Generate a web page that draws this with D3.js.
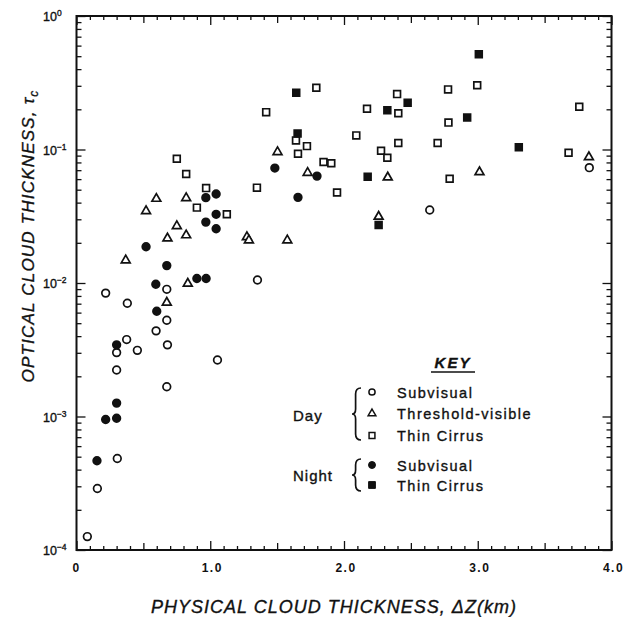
<!DOCTYPE html>
<html>
<head>
<meta charset="utf-8">
<script src="https://cdn.jsdelivr.net/npm/d3@7"></script>
<style>
  html, body { margin: 0; padding: 0; background: #fff; }
  svg { display: block; }
  text { font-family: "Liberation Sans", Arial, sans-serif; fill: #111; stroke: #111; stroke-width: 0.35px; }
</style>
</head>
<body>
<svg id="chart" width="637" height="617"></svg>
<script>
// Physical cloud thickness ΔZ (km) vs optical cloud thickness τc, by cloud class
const daySubvisual = [
  [0.675, 0.00897], [0.218, 0.0084], [0.38, 0.00705], [0.675, 0.00526],
  [0.595, 0.00438], [0.375, 0.00377], [0.68, 0.00344], [0.30, 0.00301],
  [0.455, 0.00313], [1.054, 0.00265], [0.30, 0.00223], [0.675, 0.00167],
  [0.305, 0.000485], [0.156, 0.000289], [0.081, 0.000126], [1.353, 0.01054],
  [2.641, 0.0352], [3.834, 0.0731]
];
const dayThreshold = [
  [0.597, 0.0428], [0.82, 0.0433], [0.52, 0.0346], [0.75, 0.0267],
  [0.68, 0.0216], [0.82, 0.0228], [1.274, 0.0221], [1.289, 0.0209],
  [0.368, 0.0148], [0.832, 0.0099], [0.675, 0.00713], [1.503, 0.0957],
  [1.728, 0.067], [2.327, 0.0618], [2.259, 0.0314], [1.576, 0.0209],
  [3.831, 0.0877], [3.013, 0.0677]
];
const dayCirrus = [
  [0.75, 0.0853], [0.82, 0.0655], [0.969, 0.0514], [1.349, 0.0518],
  [0.9, 0.0367], [1.124, 0.0327], [1.793, 0.290], [1.418, 0.1905],
  [2.397, 0.26], [2.172, 0.202], [2.406, 0.187], [1.641, 0.117],
  [2.092, 0.1275], [1.723, 0.106], [1.656, 0.093], [2.406, 0.112],
  [2.70, 0.112], [2.277, 0.098], [2.324, 0.0868], [1.847, 0.0805],
  [1.905, 0.079], [1.948, 0.0477], [2.996, 0.303], [2.778, 0.282],
  [2.781, 0.159], [3.759, 0.209], [3.679, 0.0946], [2.79, 0.0604]
];
const nightSubvisual = [
  [0.967, 0.0436], [1.044, 0.0464], [1.044, 0.0327], [0.967, 0.0286],
  [1.044, 0.0255], [0.52, 0.0187], [0.675, 0.0135], [0.9, 0.0108],
  [0.969, 0.0108], [0.593, 0.00978], [0.6, 0.00614], [0.3, 0.00344],
  [0.3, 0.00126], [0.218, 0.00095], [0.3, 0.00097], [0.153, 0.000466],
  [1.483, 0.0726], [1.798, 0.0632], [1.656, 0.0438]
];
const nightCirrus = [
  [1.643, 0.266], [2.476, 0.224], [2.324, 0.197], [1.653, 0.132],
  [2.177, 0.0626], [2.259, 0.0272], [3.008, 0.518], [2.921, 0.174],
  [3.307, 0.104]
];

const xTickLabels = ["0", "1.0", "2.0", "3.0", "4.0"];
const xMajor = [0, 1, 2, 3, 4];
const yExponents = [0, -1, -2, -3, -4];
const legendDay = ["Subvisual", "Threshold-visible", "Thin Cirrus"];
const legendNight = ["Subvisual", "Thin Cirrus"];

const svg = d3.select("#chart");
const L = 76.5, R = 611.5, T = 16, B = 550;

const x = d3.scaleLinear().domain([0, 4]).range([L, R]);
const y = d3.scaleLog().domain([1e-4, 1]).range([B, T]);

// tick values
const xMinor = d3.range(0, 40.5, 1).map(d => d / 10).filter(d => Math.abs(d * 2 - Math.round(d * 2)) > 1e-6);
const xHalf = [0.5, 1.5, 2.5, 3.5];
const yMajor = yExponents.map(e => Math.pow(10, e));
const yMinor = [];
for (let e = -4; e < 0; e++) for (let m = 2; m <= 9; m++) yMinor.push(m * Math.pow(10, e));

function styleAxis(g) {
  g.select(".domain").remove();
  g.selectAll(".tick line").attr("stroke", "#111").attr("stroke-width", 1.3);
  g.selectAll(".tick text").remove();
}

// inward ticks on all four sides
const sides = [
  { axis: d3.axisBottom, scale: x, at: `translate(0,${B})` },
  { axis: d3.axisTop, scale: x, at: `translate(0,${T})` }
];
sides.forEach(s => {
  svg.append("g").attr("transform", s.at).call(s.axis(s.scale).tickValues(xMinor).tickSize(-4)).call(styleAxis);
  svg.append("g").attr("transform", s.at).call(s.axis(s.scale).tickValues(xHalf).tickSize(-7)).call(styleAxis);
  svg.append("g").attr("transform", s.at).call(s.axis(s.scale).tickValues(xMajor).tickSize(-9)).call(styleAxis);
});
const vsides = [
  { axis: d3.axisLeft, at: `translate(${L},0)` },
  { axis: d3.axisRight, at: `translate(${R},0)` }
];
vsides.forEach(s => {
  svg.append("g").attr("transform", s.at).call(s.axis(y).tickValues(yMinor).tickSize(-5)).call(styleAxis);
  svg.append("g").attr("transform", s.at).call(s.axis(y).tickValues(yMajor).tickSize(-9)).call(styleAxis);
});

// frame
svg.append("rect")
  .attr("x", L).attr("y", T).attr("width", R - L).attr("height", B - T)
  .attr("fill", "none").attr("stroke", "#111").attr("stroke-width", 2);

// x tick labels
svg.append("g").selectAll("text").data(xMajor).join("text")
  .attr("x", d => x(d) + (d === 0 ? 0 : 2))
  .attr("y", B + 22)
  .attr("text-anchor", "middle")
  .attr("font-size", 12)
  .attr("font-weight", "bold")
  .attr("letter-spacing", 1.5)
  .style("stroke-width", "0px")
  .text((d, i) => xTickLabels[i]);

// y tick labels as powers of ten
const yl = svg.append("g").selectAll("text").data(yExponents).join("text")
  .attr("x", 43)
  .attr("y", d => y(Math.pow(10, d)) + 5)
  .attr("font-size", 12.5);
yl.append("tspan").text("10");
yl.append("tspan").attr("dy", -5).attr("font-size", 8.5).text(d => d === 0 ? "0" : "\u2212" + (-d));

// axis titles
svg.append("text")
  .attr("x", (L + R) / 2 - 10).attr("y", 613)
  .attr("text-anchor", "middle")
  .attr("font-size", 18).attr("font-style", "italic").attr("letter-spacing", 1)
  .text("PHYSICAL CLOUD THICKNESS, \u0394Z(km)");

const yt = svg.append("text")
  .attr("transform", "translate(34,236) rotate(-90)")
  .attr("text-anchor", "middle")
  .attr("font-size", 17).attr("font-style", "italic").attr("letter-spacing", 1.2);
yt.append("tspan").text("OPTICAL CLOUD THICKNESS, \u03C4");
yt.append("tspan").attr("dy", 4).attr("font-size", 12).text("c");

// markers
const shapes = {
  circle: d3.symbol().type(d3.symbolCircle).size(46),
  triangle: d3.symbol().type(d3.symbolTriangle).size(34),
  square: d3.symbol().type(d3.symbolSquare).size(46)
};
const series = [
  { data: daySubvisual, shape: "circle", filled: false },
  { data: dayThreshold, shape: "triangle", filled: false },
  { data: dayCirrus, shape: "square", filled: false },
  { data: nightSubvisual, shape: "circle", filled: true },
  { data: nightCirrus, shape: "square", filled: true }
];
series.forEach(s => {
  svg.append("g").selectAll("path").data(s.data).join("path")
    .attr("transform", d => `translate(${x(d[0])},${y(d[1])})`)
    .attr("d", shapes[s.shape]())
    .attr("fill", s.filled ? "#111" : "#fff")
    .attr("stroke", "#111")
    .attr("stroke-width", 1.7);
});

// key
const key = svg.append("g");
key.append("text").attr("x", 453).attr("y", 368).attr("text-anchor", "middle")
  .attr("font-size", 15).attr("font-style", "italic").attr("font-weight", "bold")
  .attr("letter-spacing", 2).text("KEY");
key.append("line").attr("x1", 431).attr("x2", 475).attr("y1", 372).attr("y2", 372)
  .attr("stroke", "#111").attr("stroke-width", 1.6);

function brace(xr, y0, y1) {
  const m = (y0 + y1) / 2, w = 9;
  return `M${xr},${y0} Q${xr - w * 0.6},${y0} ${xr - w * 0.6},${y0 + 6}` +
    ` L${xr - w * 0.6},${m - 5} Q${xr - w * 0.6},${m} ${xr - w},${m}` +
    ` Q${xr - w * 0.6},${m} ${xr - w * 0.6},${m + 5}` +
    ` L${xr - w * 0.6},${y1 - 6} Q${xr - w * 0.6},${y1} ${xr},${y1}`;
}

const dayY = [392, 413.5, 435.5];
const nightY = [465, 485];
const legendShapes = {
  circle: d3.symbol().type(d3.symbolCircle).size(30),
  triangle: d3.symbol().type(d3.symbolTriangle).size(26),
  square: d3.symbol().type(d3.symbolSquare).size(34)
};
const dayShapes = ["circle", "triangle", "square"];
const nightShapes = ["circle", "square"];

key.append("text").attr("x", 293).attr("y", 421).attr("font-size", 15).attr("letter-spacing", 1).text("Day");
key.append("text").attr("x", 293).attr("y", 481).attr("font-size", 15).attr("letter-spacing", 1).text("Night");
key.append("path").attr("d", brace(361, 388, 440)).attr("fill", "none").attr("stroke", "#111").attr("stroke-width", 1.7);
key.append("path").attr("d", brace(361, 459, 491)).attr("fill", "none").attr("stroke", "#111").attr("stroke-width", 1.7);

key.append("g").selectAll("path").data(dayShapes).join("path")
  .attr("transform", (d, i) => `translate(372,${dayY[i]})`)
  .attr("d", d => legendShapes[d]())
  .attr("fill", "#fff").attr("stroke", "#111").attr("stroke-width", 1.5);
key.append("g").selectAll("path").data(nightShapes).join("path")
  .attr("transform", (d, i) => `translate(372,${nightY[i]})`)
  .attr("d", d => d === "circle" ? d3.symbol().type(d3.symbolCircle).size(38)() : d3.symbol().type(d3.symbolSquare).size(46)())
  .attr("fill", "#111").attr("stroke", "#111").attr("stroke-width", 1);

key.append("g").selectAll("text").data(legendDay).join("text")
  .attr("x", 397).attr("y", (d, i) => dayY[i] + 5.5)
  .attr("font-size", 14.5).attr("letter-spacing", 1.5).text(d => d);
key.append("g").selectAll("text").data(legendNight).join("text")
  .attr("x", 397).attr("y", (d, i) => nightY[i] + 5.5)
  .attr("font-size", 14.5).attr("letter-spacing", 1.5).text(d => d);
</script>
</body>
</html>
